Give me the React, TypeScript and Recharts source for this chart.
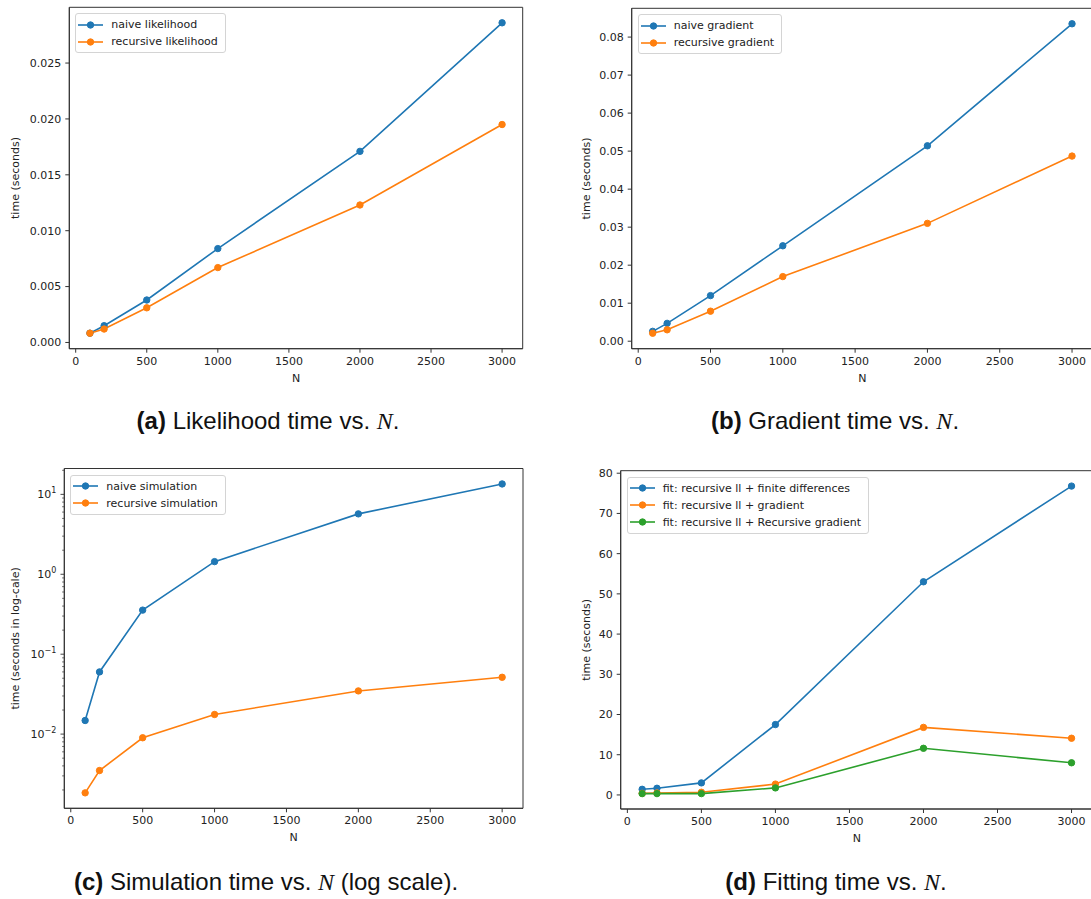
import React from 'react';
import { LineChart, Line, XAxis, YAxis, Legend, ReferenceArea } from 'recharts';

// Problem sizes used in every benchmark
const N_VALUES = [100, 200, 500, 1000, 2000, 3000];
const X_TICKS = [0, 500, 1000, 1500, 2000, 2500, 3000];

// (a) likelihood evaluation time (seconds)
const likelihoodNaive = [0.00083, 0.0015, 0.0038, 0.0084, 0.0171, 0.0286];
const likelihoodRecursive = [0.00083, 0.0012, 0.0031, 0.0067, 0.0123, 0.0195];
const likelihoodTicks = [0, 0.005, 0.01, 0.015, 0.02, 0.025];

// (b) gradient evaluation time (seconds)
const gradientNaive = [0.0026, 0.0047, 0.012, 0.0251, 0.0514, 0.0835];
const gradientRecursive = [0.0021, 0.003, 0.0079, 0.017, 0.031, 0.0487];
const gradientTicks = [0, 0.01, 0.02, 0.03, 0.04, 0.05, 0.06, 0.07, 0.08];

// (c) simulation time (seconds, log axis)
const simulationNaive = [0.0148, 0.06, 0.356, 1.44, 5.7, 13.5];
const simulationRecursive = [0.00184, 0.0035, 0.009, 0.0176, 0.0347, 0.0514];
const simulationDecades = [-3, -2, -1, 0, 1];

// (d) fitting time (seconds)
const fitFiniteDifferences = [1.4, 1.66, 3.0, 17.5, 53.0, 76.8];
const fitGradient = [0.4, 0.5, 0.67, 2.7, 16.8, 14.1];
const fitRecursiveGradient = [0.33, 0.33, 0.33, 1.75, 11.6, 8.0];
const fitTicks = [0, 10, 20, 30, 40, 50, 60, 70, 80];

const BLUE = '#1f77b4';
const ORANGE = '#ff7f0e';
const GREEN = '#2ca02c';
const FONT = "'DejaVu Sans', sans-serif";
const TEXT = '#222';
const SPINE = '#333';
const TICK_SIZE = 4;
const TICK_MARGIN = 4;

const padded = (vals: number[]): [number, number] => {
  const lo = Math.min(...vals);
  const hi = Math.max(...vals);
  const m = (hi - lo) * 0.05;
  return [lo - m, hi + m];
};

const paddedLog = (vals: number[]): [number, number] => {
  const lo = Math.log10(Math.min(...vals));
  const hi = Math.log10(Math.max(...vals));
  const m = (hi - lo) * 0.05;
  return [Math.pow(10, lo - m), Math.pow(10, hi + m)];
};

const X_DOMAIN = padded(N_VALUES);

type Series = { key: string; name: string; color: string; values: number[] };

const LegendBox = (props: any) => {
  const order: string[] = props.order || [];
  const items = [...(props.payload || [])].sort(
    (a: any, b: any) => order.indexOf(a.value) - order.indexOf(b.value)
  );
  return (
    <div
      style={{
        display: 'inline-block',
        border: '1px solid #d4d4d4',
        borderRadius: 3,
        background: 'rgba(255,255,255,0.8)',
        padding: '2px 7px 2px 2px',
        fontFamily: FONT,
        fontSize: 11,
        color: TEXT,
        whiteSpace: 'nowrap',
      }}
    >
      {items.map((it: any) => (
        <div key={it.value} style={{ display: 'flex', alignItems: 'center', height: 17 }}>
          <svg width={25} height={10} style={{ marginRight: 8, display: 'block' }}>
            <line x1={0} x2={25} y1={5} y2={5} stroke={it.color} strokeWidth={1.6} />
            <circle cx={12.5} cy={5} r={3.2} fill={it.color} stroke={it.color} strokeWidth={1} />
          </svg>
          <span>{it.value}</span>
        </div>
      ))}
    </div>
  );
};

const LogTick = (props: any) => {
  const { x, y, payload } = props;
  const v = payload.value;
  const lg = Math.log10(v);
  const exp = Math.round(lg);
  const isMajor = Math.abs(lg - exp) < 1e-9;
  const axisX = x + TICK_SIZE + TICK_MARGIN;
  const expText = exp < 0 ? '\u2212' + String(-exp) : String(exp);
  return (
    <g>
      <line
        x1={axisX}
        x2={axisX - (isMajor ? 3.8 : 2.2)}
        y1={y}
        y2={y}
        stroke={SPINE}
        strokeWidth={isMajor ? 0.9 : 0.7}
      />
      {isMajor && (
        <text x={x} y={y} dy={4} textAnchor="end" fontFamily={FONT} fontSize={11} fill={TEXT}>
          10
          <tspan dy={-5} fontSize={8}>
            {expText}
          </tspan>
        </text>
      )}
    </g>
  );
};

type PanelProps = {
  left: number;
  top: number;
  width: number;
  height: number;
  margin: { top: number; right: number; bottom: number; left: number };
  yAxisWidth: number;
  series: Series[];
  yDomain: [number, number];
  yTicks: number[];
  yFormat?: (v: number) => string;
  yLabel: string;
  yLabelOffset: number;
  log?: boolean;
};

const Panel = (p: PanelProps) => {
  const data = N_VALUES.map((n, i) => {
    const row: any = { n };
    p.series.forEach((s) => {
      row[s.key] = s.values[i];
    });
    return row;
  });
  const tickStyle = { fontFamily: FONT, fontSize: 11, fill: TEXT };
  const legendLeft = p.margin.left + p.yAxisWidth + 6;
  const legendTop = p.margin.top + 6;
  const yLabelProps = {
    value: p.yLabel,
    angle: -90,
    position: 'insideLeft' as const,
    offset: p.yLabelOffset,
    textAnchor: 'middle' as const,
    style: { fontFamily: FONT, fontSize: 11, fill: TEXT },
  };
  return (
    <div style={{ position: 'absolute', left: p.left, top: p.top }}>
      <LineChart width={p.width} height={p.height} data={data} margin={p.margin}>
        <XAxis
          dataKey="n"
          type="number"
          domain={X_DOMAIN}
          ticks={X_TICKS}
          interval={0}
          allowDataOverflow
          height={40}
          tick={tickStyle}
          tickSize={TICK_SIZE}
          tickMargin={TICK_MARGIN}
          axisLine={{ stroke: SPINE }}
          tickLine={{ stroke: SPINE }}
          label={{
            value: 'N',
            position: 'insideBottom',
            offset: 7,
            style: { fontFamily: FONT, fontSize: 11, fill: TEXT },
          }}
        />
        {p.log ? (
          <YAxis
            type="number"
            scale="log"
            domain={p.yDomain}
            ticks={p.yTicks}
            allowDataOverflow
            interval={0}
            width={p.yAxisWidth}
            tick={<LogTick />}
            tickLine={false}
            tickSize={TICK_SIZE}
            tickMargin={TICK_MARGIN}
            axisLine={{ stroke: SPINE }}
            label={yLabelProps}
          />
        ) : (
          <YAxis
            type="number"
            domain={p.yDomain}
            ticks={p.yTicks}
            allowDataOverflow
            interval={0}
            width={p.yAxisWidth}
            tick={tickStyle}
            tickFormatter={p.yFormat}
            tickSize={TICK_SIZE}
            tickMargin={TICK_MARGIN}
            axisLine={{ stroke: SPINE }}
            tickLine={{ stroke: SPINE }}
            label={yLabelProps}
          />
        )}
        {/* axes frame */}
        <ReferenceArea
          x1={X_DOMAIN[0]}
          x2={X_DOMAIN[1]}
          y1={p.yDomain[0]}
          y2={p.yDomain[1]}
          fill="none"
          fillOpacity={0}
          stroke={SPINE}
          strokeWidth={1}
          ifOverflow="visible"
        />
        <Legend
          layout="horizontal"
          verticalAlign="middle"
          align="center"
          content={<LegendBox order={p.series.map((s) => s.name)} />}
          wrapperStyle={{ left: legendLeft, top: legendTop, width: 'auto', height: 'auto' }}
        />
        {p.series.map((s) => (
          <Line
            key={s.key}
            dataKey={s.key}
            name={s.name}
            stroke={s.color}
            strokeWidth={1.6}
            dot={{ r: 3.2, fill: s.color, stroke: s.color, strokeWidth: 1 }}
            activeDot={false}
            isAnimationActive={false}
          />
        ))}
      </LineChart>
    </div>
  );
};

const Caption = ({ cx, cy, tag, text, tail }: { cx: number; cy: number; tag: string; text: string; tail: string }) => (
  <div
    style={{
      position: 'absolute',
      left: cx - 250,
      top: cy - 15,
      width: 500,
      height: 30,
      lineHeight: '30px',
      textAlign: 'center',
      fontFamily: "'Liberation Sans', Arial, sans-serif",
      fontSize: 24,
      color: '#111',
      whiteSpace: 'nowrap',
    }}
  >
    <b>({tag})</b> {text}
    <i style={{ fontFamily: "'Liberation Serif', serif" }}>N</i>
    {tail}
  </div>
);

// log-axis tick values: decades plus 2..9 multiples inside the domain
const simDomain = paddedLog([...simulationNaive, ...simulationRecursive]);
const simTicks: number[] = [];
simulationDecades.forEach((d) => {
  for (let k = 1; k <= 9; k++) {
    const v = k * Math.pow(10, d);
    if (v >= simDomain[0] && v <= simDomain[1]) simTicks.push(k === 1 ? Math.pow(10, d) : v);
  }
});

export default function App() {
  return (
    <div
      style={{
        position: 'absolute',
        left: 0,
        top: 0,
        width: 1091,
        height: 899,
        overflow: 'hidden',
        background: '#fff',
      }}
    >
      <Panel
        left={0}
        top={0}
        width={545}
        height={395}
        margin={{ top: 7.3, right: 22.3, bottom: 6.3, left: 0 }}
        yAxisWidth={69.3}
        series={[
          { key: 'naive', name: 'naive likelihood', color: BLUE, values: likelihoodNaive },
          { key: 'rec', name: 'recursive likelihood', color: ORANGE, values: likelihoodRecursive },
        ]}
        yDomain={padded([...likelihoodNaive, ...likelihoodRecursive])}
        yTicks={likelihoodTicks}
        yFormat={(v) => v.toFixed(3)}
        yLabel="time (seconds)"
        yLabelOffset={15.5}
      />
      <Panel
        left={560}
        top={0}
        width={535}
        height={395}
        margin={{ top: 8.3, right: 2, bottom: 6.3, left: 0 }}
        yAxisWidth={71.7}
        series={[
          { key: 'naive', name: 'naive gradient', color: BLUE, values: gradientNaive },
          { key: 'rec', name: 'recursive gradient', color: ORANGE, values: gradientRecursive },
        ]}
        yDomain={padded([...gradientNaive, ...gradientRecursive])}
        yTicks={gradientTicks}
        yFormat={(v) => v.toFixed(2)}
        yLabel="time (seconds)"
        yLabelOffset={26.2}
      />
      <Panel
        left={0}
        top={455}
        width={545}
        height={400}
        margin={{ top: 13.5, right: 22, bottom: 6.7, left: 0 }}
        yAxisWidth={64.3}
        series={[
          { key: 'naive', name: 'naive simulation', color: BLUE, values: simulationNaive },
          { key: 'rec', name: 'recursive simulation', color: ORANGE, values: simulationRecursive },
        ]}
        yDomain={simDomain}
        yTicks={simTicks}
        yLabel="time (seconds in log-cale)"
        yLabelOffset={15.5}
        log
      />
      <Panel
        left={560}
        top={455}
        width={535}
        height={400}
        margin={{ top: 15.7, right: 2, bottom: 6, left: 0 }}
        yAxisWidth={60.7}
        series={[
          { key: 'fd', name: 'fit: recursive ll + finite differences', color: BLUE, values: fitFiniteDifferences },
          { key: 'grad', name: 'fit: recursive ll + gradient', color: ORANGE, values: fitGradient },
          { key: 'rgrad', name: 'fit: recursive ll + Recursive gradient', color: GREEN, values: fitRecursiveGradient },
        ]}
        yDomain={padded([...fitFiniteDifferences, ...fitGradient, ...fitRecursiveGradient])}
        yTicks={fitTicks}
        yFormat={(v) => String(v)}
        yLabel="time (seconds)"
        yLabelOffset={26.2}
      />
      <Caption cx={268} cy={421} tag="a" text="Likelihood time vs. " tail="." />
      <Caption cx={835} cy={421} tag="b" text="Gradient time vs. " tail="." />
      <Caption cx={266} cy={882} tag="c" text="Simulation time vs. " tail=" (log scale)." />
      <Caption cx={836} cy={882} tag="d" text="Fitting time vs. " tail="." />
    </div>
  );
}
